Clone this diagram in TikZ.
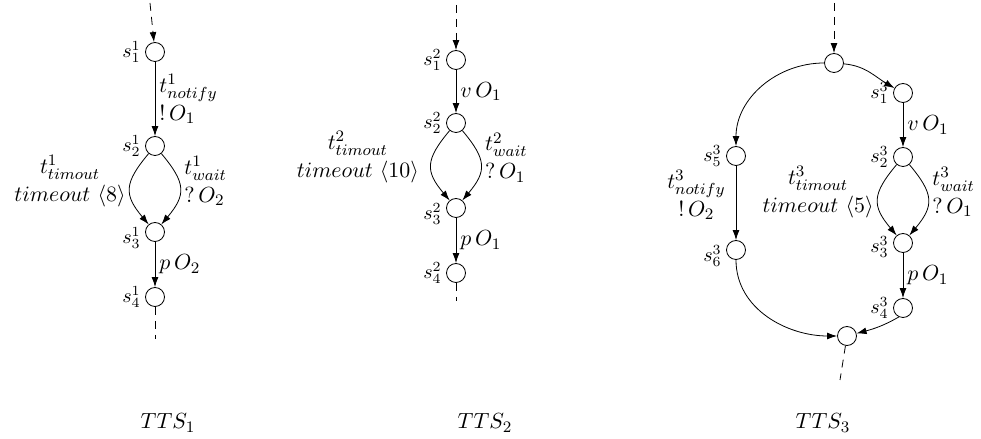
\documentclass[tikz,border=0pt]{standalone}
\usetikzlibrary{arrows.meta}
\begin{document}
\begin{tikzpicture}[x=0.5pt, y=0.5pt,
  st/.style={circle, draw, inner sep=0pt, minimum size=9.5pt},
  tr/.style={thin, -{Latex[length=5pt,width=3.4pt]}},
  dsh/.style={thin, dash pattern=on 4pt off 3pt},
  lb/.style={font=\fontsize{11}{14}\selectfont, inner sep=2pt},
  sl/.style={font=\fontsize{10}{12}\selectfont, inner sep=2pt}]
\useasboundingbox (0,0) rectangle (981,439);

% TTS_1
\coordinate (a0) at (150,436);
\node[st, label={[sl]left:$s^1_1$}] (a1) at (155,387) {};
\node[st, label={[sl]left:$s^1_2$}] (a2) at (155,293) {};
\node[st, label={[sl, yshift=-3pt]left:$s^1_3$}] (a3) at (155,207) {};
\node[st, label={[sl]left:$s^1_4$}] (a4) at (155,142) {};
\coordinate (a5) at (155,100);
\draw[dsh, -{Latex[length=5pt,width=3.4pt]}] (a0) -- (a1);
\draw[tr] (a1) -- node[lb, right, align=left] {$t^1_{notify}$\\$!\,O_1$} (a2);
\draw[tr] (a2) to[out=-130, in=130, looseness=1.4]
  node[lb, left, align=center, yshift=4pt] {$t^1_{timout}$\\$timeout\ \langle 8\rangle$} (a3);
\draw[tr] (a2) to[out=-50, in=50, looseness=1.4]
  node[lb, right, align=left, yshift=4pt] {$t^1_{wait}$\\$?\,O_2$} (a3);
\draw[tr] (a3) -- node[lb, right] {$p\,O_2$} (a4);
\draw[dsh] (a4) -- (a5);
\node[lb] (n1) at (168,16) {$TTS_1$};

% TTS_2
\coordinate (b0) at (456,434);
\node[st, label={[sl]left:$s^2_1$}] (b1) at (456,379) {};
\node[st, label={[sl]left:$s^2_2$}] (b2) at (456,316) {};
\node[st, label={[sl, yshift=-3pt]left:$s^2_3$}] (b3) at (456,231) {};
\node[st, label={[sl]left:$s^2_4$}] (b4) at (456,166) {};
\coordinate (b5) at (456,138);
\draw[dsh, -{Latex[length=5pt,width=3.4pt]}] (b0) -- (b1);
\draw[tr] (b1) -- node[lb, right] {$v\,O_1$} (b2);
\draw[tr] (b2) to[out=-130, in=130, looseness=1.4]
  node[lb, left, align=center, yshift=4pt, xshift=-4pt] {$t^2_{timout}$\\$timeout\ \langle 10\rangle$} (b3);
\draw[tr] (b2) to[out=-50, in=50, looseness=1.4]
  node[lb, right, align=left, yshift=4pt] {$t^2_{wait}$\\$?\,O_1$} (b3);
\draw[tr] (b3) -- node[lb, right] {$p\,O_1$} (b4);
\draw[dsh] (b4) -- (b5);
\node[lb] (n2) at (485,16) {$TTS_2$};

% TTS_3
\coordinate (c9) at (834,436);
\node[st] (c0) at (834,376) {};
\node[st, label={[sl]left:$s^3_1$}] (c1) at (903,346) {};
\node[st, label={[sl]left:$s^3_2$}] (c2) at (903,282) {};
\node[st, label={[sl, yshift=-2pt]left:$s^3_3$}] (c3) at (903,196) {};
\node[st, label={[sl]left:$s^3_4$}] (c4) at (903,131) {};
\node[st, label={[sl]left:$s^3_5$}] (c5) at (736,283) {};
\node[st, label={[sl, yshift=-3pt]left:$s^3_6$}] (c6) at (736,189) {};
\node[st] (cb) at (847,103) {};
\coordinate (cc) at (840,59);
\draw[dsh, -{Latex[length=5pt,width=3.4pt]}] (c9) -- (c0);
\draw[tr] (c0) to[out=-5, in=150] (c1);
\draw[tr] (c0) to[out=180, in=90] (c5);
\draw[tr] (c1) -- node[lb, right] {$v\,O_1$} (c2);
\draw[tr] (c5) -- node[lb, left, align=center, yshift=4pt, xshift=-3pt] {$t^3_{notify}$\\$!\,O_2$} (c6);
\draw[tr] (c2) to[out=-130, in=130, looseness=1.4]
  node[lb, left, align=center, yshift=4pt] {$t^3_{timout}$\\$timeout\ \langle 5\rangle$} (c3);
\draw[tr] (c2) to[out=-50, in=50, looseness=1.4]
  node[lb, right, align=left, yshift=4pt] {$t^3_{wait}$\\$?\,O_1$} (c3);
\draw[tr] (c3) -- node[lb, right] {$p\,O_1$} (c4);
\draw[tr] (c6) to[out=-90, in=180] (cb);
\draw[tr] (c4.-115) to[out=-150, in=15] (cb);
\draw[dsh] (cb) -- (cc);
\node[lb] (n3) at (823,16) {$TTS_3$};
\end{tikzpicture}
\end{document}
